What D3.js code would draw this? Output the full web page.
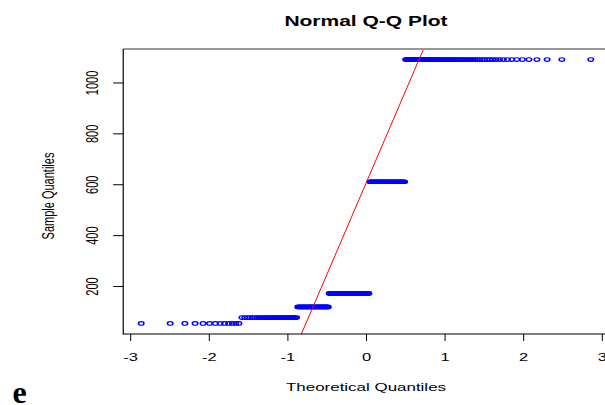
<!DOCTYPE html>
<html>
<head>
<meta charset="utf-8">
<script src="https://cdn.jsdelivr.net/npm/d3@7"></script>
<style>
  html, body { margin: 0; padding: 0; background: #fff; }
  svg { display: block; }
  text { font-family: "Liberation Sans", Arial, Helvetica, sans-serif; fill: #000; }
</style>
</head>
<body>
<svg id="chart" width="605" height="405"></svg>
<script>
// ---- data ----
// distinct sample values and how many observations sit at each value
const sampleLevels = [53, 76, 118, 171, 610, 1090];
const sampleCounts = [13, 32, 30, 47, 41, 73];
const xTicks = [-3, -2, -1, 0, 1, 2, 3];
const yTicks = [200, 400, 600, 800, 1000];
const chartTitle = "Normal Q-Q Plot";
const xTitle = "Theoretical Quantiles";
const yTitle = "Sample Quantiles";
const panelLabel = "e";

(function () {
// inverse standard normal CDF (Acklam)
function qnorm(p) {
  const a = [-3.969683028665376e+01, 2.209460984245205e+02, -2.759285104469687e+02,
             1.383577518672690e+02, -3.066479806614716e+01, 2.506628277459239e+00];
  const b = [-5.447609879822406e+01, 1.615858368580409e+02, -1.556989798598866e+02,
             6.680131188771972e+01, -1.328068155288572e+01];
  const c = [-7.784894002430293e-03, -3.223964580411365e-01, -2.400758277161838e+00,
             -2.549732539343734e+00, 4.374664141464968e+00, 2.938163982698783e+00];
  const d = [7.784695709041462e-03, 3.224671290700398e-01, 2.445134137142996e+00,
             3.754408661907416e+00];
  const pl = 0.02425, ph = 1 - pl;
  let q, r;
  if (p < pl) {
    q = Math.sqrt(-2 * Math.log(p));
    return (((((c[0]*q+c[1])*q+c[2])*q+c[3])*q+c[4])*q+c[5]) / ((((d[0]*q+d[1])*q+d[2])*q+d[3])*q+1);
  } else if (p <= ph) {
    q = p - 0.5; r = q * q;
    return (((((a[0]*r+a[1])*r+a[2])*r+a[3])*r+a[4])*r+a[5])*q / (((((b[0]*r+b[1])*r+b[2])*r+b[3])*r+b[4])*r+1);
  } else {
    q = Math.sqrt(-2 * Math.log(1 - p));
    return -(((((c[0]*q+c[1])*q+c[2])*q+c[3])*q+c[4])*q+c[5]) / ((((d[0]*q+d[1])*q+d[2])*q+d[3])*q+1);
  }
}

// expand the sample, sort, pair with theoretical quantiles (R's ppoints)
const sample = [];
sampleLevels.forEach((v, i) => { for (let k = 0; k < sampleCounts[i]; k++) sample.push(v); });
sample.sort((a, b) => a - b);
const n = sample.length;
const points = sample.map((v, i) => ({ x: qnorm((i + 1 - 0.5) / n), y: v }));

// qqline through the quartiles
const yq1 = d3.quantile(sample, 0.25), yq3 = d3.quantile(sample, 0.75);
const xq1 = qnorm(0.25), xq3 = qnorm(0.75);
const slope = (yq3 - yq1) / (xq3 - xq1);
const intercept = yq1 - slope * xq1;

// ---- layout ----
const svg = d3.select("#chart");
const SX = 1.5; // horizontal stretch present in the reference image
const plotTop = 49, plotBottom = 334;

function padExt(ext) { const r = ext[1] - ext[0]; return [ext[0] - 0.04 * r, ext[1] + 0.04 * r]; }
const xDom = padExt(d3.extent(points, p => p.x));
const yDom = padExt(d3.extent(points, p => p.y));
const pxPerUnit = 78.6;
const xZero = 366;
const x = d3.scaleLinear().domain(xDom).range([xZero + xDom[0] * pxPerUnit, xZero + xDom[1] * pxPerUnit]);
const y = d3.scaleLinear().domain(yDom).range([plotBottom, plotTop]);
const plotLeft = x.range()[0], plotRight = x.range()[1];

// clip
svg.append("defs").append("clipPath").attr("id", "plotClip")
  .append("rect").attr("x", plotLeft).attr("y", plotTop)
  .attr("width", plotRight - plotLeft).attr("height", plotBottom - plotTop);

// points
svg.append("g").attr("clip-path", "url(#plotClip)")
  .selectAll("circle").data(points).join("circle")
  .attr("transform", p => `translate(${x(p.x)},${y(p.y)}) scale(${SX},1)`)
  .attr("r", 1.8)
  .attr("fill", "none")
  .attr("stroke", "#0000ff")
  .attr("stroke-width", 1.05);

// qq line
svg.append("g").attr("clip-path", "url(#plotClip)")
  .append("line")
  .attr("x1", x(xDom[0])).attr("y1", y(intercept + slope * xDom[0]))
  .attr("x2", x(xDom[1])).attr("y2", y(intercept + slope * xDom[1]))
  .attr("stroke", "#ff0000").attr("stroke-width", 1);

// box
svg.append("line").attr("x1", plotLeft).attr("x2", plotRight).attr("y1", plotTop).attr("y2", plotTop)
  .attr("stroke", "#999").attr("stroke-width", 2);
svg.append("line").attr("x1", plotLeft).attr("x2", plotLeft).attr("y1", plotTop).attr("y2", plotBottom + 0.5)
  .attr("stroke", "#000").attr("stroke-width", 1.2);
svg.append("line").attr("x1", plotLeft).attr("x2", plotRight).attr("y1", plotBottom).attr("y2", plotBottom)
  .attr("stroke", "#000").attr("stroke-width", 1.2);

// x axis
const xAxis = svg.append("g").attr("transform", `translate(0,${plotBottom})`)
  .call(d3.axisBottom(x).tickValues(xTicks).tickSize(7).tickSizeOuter(0).tickFormat(v => String(v)));
xAxis.select(".domain").remove();
xAxis.selectAll(".tick line").attr("stroke", "#000").attr("stroke-width", 1);
xAxis.selectAll(".tick text")
  .attr("x", 0).attr("y", 0).attr("dy", null)
  .attr("transform", `translate(0,27) scale(${SX},1)`)
  .attr("text-anchor", "middle")
  .style("font-size", "11px").attr("fill", "#000")
  .style("font-family", '"Liberation Sans", Arial, sans-serif');

// y axis
const yAxis = svg.append("g").attr("transform", `translate(${plotLeft},0)`)
  .call(d3.axisLeft(y).tickValues(yTicks).tickSize(10).tickSizeOuter(0).tickFormat(v => String(v)));
yAxis.select(".domain").remove();
yAxis.selectAll(".tick line").attr("stroke", "#000").attr("stroke-width", 1);
yAxis.selectAll(".tick text")
  .attr("x", 0).attr("y", 0).attr("dy", null)
  .attr("transform", `translate(-25,0) scale(${SX},1) rotate(-90)`)
  .attr("text-anchor", "middle")
  .style("font-size", "11px").attr("fill", "#000")
  .style("font-family", '"Liberation Sans", Arial, sans-serif');

// title
svg.append("text")
  .attr("transform", `translate(366,26) scale(${SX},1)`)
  .attr("text-anchor", "middle")
  .style("font-size", "14px").style("font-weight", "bold")
  .text(chartTitle);

// axis titles
svg.append("text")
  .attr("transform", `translate(366,390.5) scale(${SX},1)`)
  .attr("text-anchor", "middle")
  .style("font-size", "11.3px")
  .text(xTitle);

svg.append("text")
  .attr("transform", `translate(54,196) scale(${SX},1) rotate(-90)`)
  .attr("text-anchor", "middle")
  .style("font-size", "11px")
  .text(yTitle);

// panel label
svg.append("text")
  .attr("x", 12.5).attr("y", 403)
  .style("font-family", '"Liberation Serif", "Times New Roman", serif')
  .style("font-weight", "bold")
  .style("font-size", "32px")
  .text(panelLabel);
})();
</script>
</body>
</html>
